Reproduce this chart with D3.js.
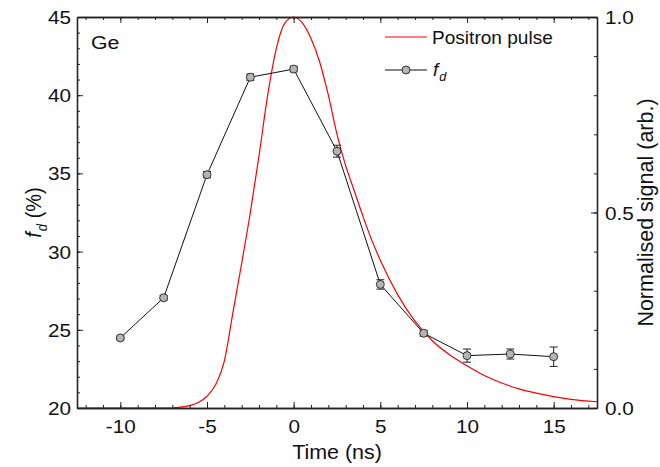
<!DOCTYPE html>
<html><head><meta charset="utf-8">
<script src="https://cdn.jsdelivr.net/npm/d3@7"></script>
<style>body{margin:0;background:#fff}svg{font-family:"Liberation Sans",Arial,sans-serif}</style>
</head><body><svg id="c" width="660" height="467"></svg>
<script>
// ---- data ----
const times = [-10, -7.5, -5, -2.5, 0, 2.5, 5, 7.5, 10, 12.5, 15];
const fd = [24.48, 27.05, 34.92, 41.15, 41.67, 36.42, 27.9, 24.78, 23.35, 23.45, 23.28];
const fdErr = [0.12, 0.15, 0.2, 0.2, 0.18, 0.38, 0.3, 0.18, 0.42, 0.32, 0.62];
const pulseT = [-12.5, -7.0, -6.5, -6.0, -5.5, -5.0, -4.5, -4.0, -3.5, -3.0, -2.5, -2.0, -1.5, -1.0, -0.5, 0, 0.5, 1.0, 1.5, 2.0, 2.5, 3.0, 3.5, 4.0, 4.5, 5.0, 6.0, 7.0, 8.0, 9.0, 10.0, 11.0, 12.0, 13.0, 14.0, 15.0, 16.0, 17.5];
const pulseV = [0, 0, 0.002, 0.006, 0.014, 0.03, 0.06, 0.12, 0.245, 0.37, 0.5, 0.645, 0.8, 0.92, 0.985, 1.0, 0.985, 0.945, 0.885, 0.8, 0.7, 0.62, 0.555, 0.49, 0.43, 0.378, 0.29, 0.222, 0.172, 0.136, 0.108, 0.083, 0.064, 0.049, 0.038, 0.029, 0.022, 0.016];
const xTicks = [-10, -5, 0, 5, 10, 15];
const yTicks = [20, 25, 30, 35, 40, 45];
const y2Ticks = [0, 0.5, 1.0];

const svg = d3.select("#c");
const L = 77, R = 597, T = 17, B = 408;
const x = d3.scaleLinear().domain([-12.5, 17.5]).range([L, R]);
const y = d3.scaleLinear().domain([20, 45]).range([B, T]);
const y2 = d3.scaleLinear().domain([0, 1]).range([B, T]);
const axisCol = "#222";
const SX = 1.12; // horizontal glyph stretch seen in the reference

// pulse curve
svg.append("path")
  .datum(pulseT.map((t, i) => [t, pulseV[i]]))
  .attr("fill", "none").attr("stroke", "#ff0000").attr("stroke-width", 1.2)
  .attr("d", d3.line().x(d => x(d[0])).y(d => y2(d[1])).curve(d3.curveMonotoneX));

// fd line
const pts = times.map((t, i) => ({t, v: fd[i], e: fdErr[i]}));
svg.append("path").datum(pts)
  .attr("fill", "none").attr("stroke", "#111").attr("stroke-width", 1)
  .attr("d", d3.line().x(d => x(d.t)).y(d => y(d.v)));
const eb = svg.append("g").attr("stroke", "#222").attr("stroke-width", 1);
pts.forEach(d => {
  eb.append("line").attr("x1", x(d.t)).attr("x2", x(d.t)).attr("y1", y(d.v - d.e)).attr("y2", y(d.v + d.e));
  [d.v - d.e, d.v + d.e].forEach(v => eb.append("line").attr("x1", x(d.t) - 4).attr("x2", x(d.t) + 4).attr("y1", y(v)).attr("y2", y(v)));
});
svg.append("g").selectAll("circle").data(pts).join("circle")
  .attr("cx", d => x(d.t)).attr("cy", d => y(d.v)).attr("r", 4)
  .attr("fill", "#b4b4b4").attr("stroke", "#333").attr("stroke-width", 1);

// axes
function styleAxis(g) {
  g.select(".domain").attr("stroke", axisCol).attr("stroke-width", 1.3);
  g.selectAll(".tick line").attr("stroke", axisCol).attr("stroke-width", 1);
}
const xMinor = d3.range(-12, 18, 1);
const yMinor = d3.range(20, 46, 1);
const y2Minor = d3.range(0, 1.01, 0.1);
const fmt = d => String(d);

function minorMajor(axisFn, scale, pos, minor, major, labelFn) {
  svg.append("g").attr("transform", pos)
    .call(axisFn(scale).tickValues(minor).tickSize(-3).tickFormat("").tickSizeOuter(0)).call(styleAxis);
  return svg.append("g").attr("transform", pos)
    .call(axisFn(scale).tickValues(major).tickSize(-6).tickFormat(labelFn || "").tickSizeOuter(0)).call(styleAxis);
}
const gb = minorMajor(d3.axisBottom, x, `translate(0,${B})`, xMinor, xTicks, fmt);
minorMajor(d3.axisTop, x, `translate(0,${T})`, xMinor, xTicks, null);
const gl = minorMajor(d3.axisLeft, y, `translate(${L},0)`, yMinor, yTicks, fmt);
const gr = minorMajor(d3.axisRight, y2, `translate(${R},0)`, y2Minor, y2Ticks, d3.format(".1f"));

function lab(g, anchor, ax, ay) {
  g.selectAll(".tick text").each(function () {
    const t = d3.select(this);
    t.attr("font-size", 18.5).attr("fill", "#111").attr("x", null).attr("dy", null)
     .attr("text-anchor", anchor).attr("dominant-baseline", "auto")
     .attr("font-family", '"Liberation Sans", Arial, sans-serif')
     .attr("transform", `translate(${ax},${ay}) scale(${SX},1)`).attr("y", 0);
  });
}
lab(gb, "middle", 0, 25);
lab(gl, "end", -6, 6.5);
lab(gr, "start", 8, 6.5);

// titles
svg.append("text").attr("transform", `translate(${(L + R) / 2},459) scale(1.1,1)`).attr("text-anchor", "middle")
  .attr("font-size", 19.5).attr("fill", "#111").text("Time (ns)");
const yl = svg.append("text").attr("transform", `translate(41,${(T + B) / 2}) rotate(-90) scale(1,1.1)`)
  .attr("text-anchor", "middle").attr("font-size", 20).attr("fill", "#111");
yl.append("tspan").attr("font-style", "italic").text("f");
yl.append("tspan").attr("font-style", "italic").attr("font-size", 13).attr("dy", 5).attr("dx", 1).text("d");
yl.append("tspan").attr("dy", -5).text(" (%)");
svg.append("text").attr("transform", `translate(653,${(T + B) / 2}) rotate(-90)`)
  .attr("text-anchor", "middle").attr("font-size", 21.5).attr("fill", "#111").text("Normalised signal (arb.)");

svg.append("text").attr("transform", "translate(91,49) scale(1.12,1)").attr("font-size", 19).attr("fill", "#111").text("Ge");

// legend
svg.append("line").attr("x1", 385).attr("x2", 427).attr("y1", 37).attr("y2", 37).attr("stroke", "#ff0000").attr("stroke-width", 1.2);
svg.append("text").attr("transform", "translate(432,44) scale(1.06,1)").attr("font-size", 18).attr("fill", "#111").text("Positron pulse");
svg.append("line").attr("x1", 385).attr("x2", 427).attr("y1", 70).attr("y2", 70).attr("stroke", "#111").attr("stroke-width", 1);
svg.append("circle").attr("cx", 406).attr("cy", 70).attr("r", 4).attr("fill", "#b4b4b4").attr("stroke", "#333");
const lt = svg.append("text").attr("transform", "translate(433,76) scale(1.06,1)").attr("font-size", 18).attr("fill", "#111");
lt.append("tspan").attr("font-style", "italic").text("f");
lt.append("tspan").attr("font-style", "italic").attr("font-size", 12).attr("dy", 5).attr("dx", 1).text("d");
</script></body></html>
